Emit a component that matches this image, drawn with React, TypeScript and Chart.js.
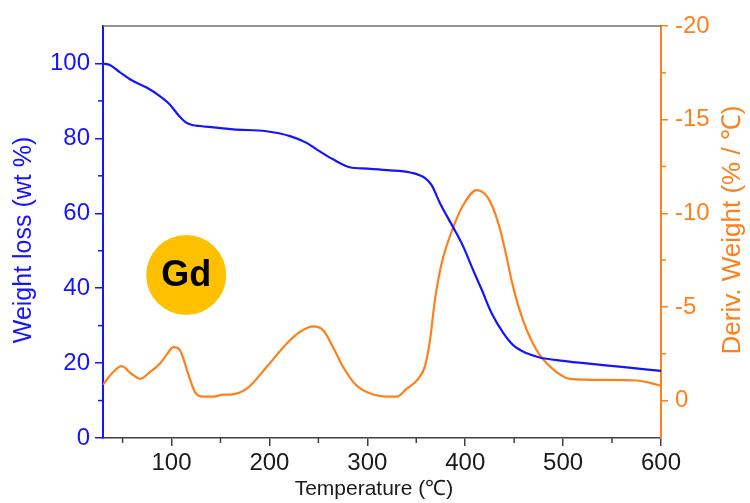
import React, { useEffect, useRef } from 'react';
import { Chart, registerables } from 'chart.js';

Chart.register(...registerables);

// TGA curve: temperature (℃) and remaining weight (wt %)
const tempWeight = [30, 37, 47, 58, 75, 88, 98, 108, 115, 122, 129, 163, 197, 221, 238, 251, 265, 282, 300, 320, 344, 359, 366, 374, 388, 398, 408, 417, 427, 439, 449, 463, 476, 500, 524, 560, 600];
const weightLoss = [100, 99.6, 97.7, 95.7, 93.5, 91.3, 89.1, 85.9, 84.2, 83.5, 83.3, 82.4, 81.9, 80.6, 78.8, 76.6, 74.4, 72.3, 71.9, 71.5, 70.9, 69.4, 67.4, 62.8, 56.1, 51.1, 44.9, 39.5, 33.3, 28.0, 24.8, 22.6, 21.5, 20.6, 19.9, 19.0, 17.9];

// DTG curve: temperature (℃) and derivative weight (% / ℃)
const tempDeriv = [30, 40.5, 49, 59, 68, 78, 88, 95, 102, 108.5, 117, 124, 132.5, 143, 153, 160, 176.5, 197, 217.5, 231, 245, 255, 265, 275.5, 289, 306, 320, 330, 340, 352, 359, 364, 369, 373, 377.6, 388, 398, 411.7, 423.6, 434, 442.3, 447, 452.6, 459, 466, 476.4, 493.4, 507, 541, 575, 600];
const derivWeight = [-0.85, -1.52, -1.84, -1.43, -1.16, -1.52, -1.96, -2.45, -2.85, -2.7, -1.43, -0.45, -0.21, -0.21, -0.32, -0.32, -0.62, -1.78, -3.03, -3.66, -3.96, -3.75, -2.85, -1.78, -0.8, -0.32, -0.21, -0.21, -0.62, -1.16, -1.85, -3.21, -5.35, -6.6, -7.67, -9.28, -10.44, -11.24, -10.8, -9.45, -7.67, -6.5, -5.35, -4.3, -3.39, -2.41, -1.52, -1.16, -1.1, -1.07, -0.8];

// Axis ticks (major carry labels, minor are short marks only)
const tempTicks = [100, 200, 300, 400, 500, 600];
const tempMinor = [50, 150, 250, 350, 450, 550];
const weightTicks = [0, 20, 40, 60, 80, 100];
const weightMinor = [10, 30, 50, 70, 90];
const derivTicks = [0, -5, -10, -15, -20];
const derivMinor = [-2.5, -7.5, -12.5, -17.5];

// Sample label placed inside the plot (in data coordinates)
const badgeText = 'Gd';
const badgeTemp = 115;
const badgeWeight = 43.5;

const BLUE = '#1414ff';
const ORANGE = '#ff801a';
const DARK = '#1a1a1a';
const FONT = 'Arial, "Liberation Sans", Helvetica, sans-serif';

const decorations = {
  id: 'decorations',
  afterDraw(chart: any) {
    const { ctx, chartArea, scales } = chart;
    const x = scales.x;
    const y = scales.y;
    const y2 = scales.y2;
    ctx.save();

    // top frame line
    ctx.strokeStyle = '#707070';
    ctx.lineWidth = 1.5;
    ctx.beginPath();
    ctx.moveTo(chartArea.left, chartArea.top);
    ctx.lineTo(chartArea.right, chartArea.top);
    ctx.stroke();

    // minor ticks
    ctx.lineWidth = 1.5;
    ctx.strokeStyle = '#404040';
    tempMinor.forEach((v) => {
      const px = x.getPixelForValue(v);
      ctx.beginPath();
      ctx.moveTo(px, chartArea.bottom);
      ctx.lineTo(px, chartArea.bottom + 5);
      ctx.stroke();
    });
    ctx.strokeStyle = BLUE;
    weightMinor.forEach((v) => {
      const py = y.getPixelForValue(v);
      ctx.beginPath();
      ctx.moveTo(chartArea.left - 5, py);
      ctx.lineTo(chartArea.left, py);
      ctx.stroke();
    });
    ctx.strokeStyle = ORANGE;
    derivMinor.forEach((v) => {
      const py = y2.getPixelForValue(v);
      ctx.beginPath();
      ctx.moveTo(chartArea.right, py);
      ctx.lineTo(chartArea.right + 5, py);
      ctx.stroke();
    });

    // axis titles
    ctx.textAlign = 'center';
    ctx.textBaseline = 'middle';

    ctx.fillStyle = BLUE;
    ctx.font = `25px ${FONT}`;
    ctx.save();
    ctx.translate(24, 240);
    ctx.rotate(-Math.PI / 2);
    ctx.fillText('Weight loss (wt %)', 0, 0);
    ctx.restore();

    ctx.fillStyle = ORANGE;
    ctx.font = `26px ${FONT}`;
    ctx.save();
    ctx.translate(733, 230);
    ctx.rotate(-Math.PI / 2);
    ctx.fillText('Deriv. Weight (% / ℃)', 0, 0);
    ctx.restore();

    ctx.fillStyle = DARK;
    ctx.font = `21px ${FONT}`;
    ctx.fillText('Temperature (℃)', 374, 489);

    // sample badge
    const cx = x.getPixelForValue(badgeTemp);
    const cy = y.getPixelForValue(badgeWeight);
    ctx.fillStyle = '#ffc000';
    ctx.beginPath();
    ctx.arc(cx, cy, 40, 0, Math.PI * 2);
    ctx.fill();
    ctx.fillStyle = '#000000';
    ctx.font = `bold 36px ${FONT}`;
    ctx.fillText(badgeText, cx, cy + 1);

    ctx.restore();
  },
};

export default function App() {
  const canvasRef = useRef<HTMLCanvasElement | null>(null);

  useEffect(() => {
    const canvas = canvasRef.current;
    if (!canvas) return;

    const chart = new Chart(canvas, {
      type: 'line',
      data: {
        datasets: [
          {
            label: 'Weight loss',
            data: tempWeight.map((t, i) => ({ x: t, y: weightLoss[i] })),
            yAxisID: 'y',
            borderColor: BLUE,
            borderWidth: 2.2,
            pointRadius: 0,
            fill: false,
            cubicInterpolationMode: 'monotone',
          },
          {
            label: 'Deriv. Weight',
            data: tempDeriv.map((t, i) => ({ x: t, y: derivWeight[i] })),
            yAxisID: 'y2',
            borderColor: ORANGE,
            borderWidth: 2.2,
            pointRadius: 0,
            fill: false,
            cubicInterpolationMode: 'monotone',
          },
        ],
      },
      options: {
        responsive: false,
        animation: false,
        layout: { padding: { top: 26, left: 0, right: 0, bottom: 0 } },
        plugins: { legend: { display: false }, tooltip: { enabled: false } },
        scales: {
          x: {
            type: 'linear',
            position: 'bottom',
            min: 30,
            max: 600,
            afterBuildTicks: (s: any) => {
              s.ticks = tempTicks.map((v) => ({ value: v }));
            },
            afterFit: (s: any) => {
              s.height = 65;
            },
            grid: { drawOnChartArea: false, drawTicks: true, tickLength: 8, color: '#404040', lineWidth: 1.5 },
            border: { color: '#404040', width: 1.5 },
            ticks: {
              color: DARK,
              font: { family: FONT, size: 24 },
              padding: 3,
              maxRotation: 0,
              autoSkip: false,
              callback: (v: any) => String(v),
            },
          },
          y: {
            type: 'linear',
            position: 'left',
            min: 0,
            max: 110,
            afterBuildTicks: (s: any) => {
              s.ticks = weightTicks.map((v) => ({ value: v }));
            },
            afterFit: (s: any) => {
              s.width = 103;
            },
            grid: { drawOnChartArea: false, drawTicks: true, tickLength: 8, color: BLUE, lineWidth: 1.5 },
            border: { color: BLUE, width: 2 },
            ticks: {
              color: BLUE,
              font: { family: FONT, size: 24 },
              padding: 5,
              autoSkip: false,
              callback: (v: any) => String(v),
            },
          },
          y2: {
            type: 'linear',
            position: 'right',
            min: -20,
            max: 2,
            reverse: true,
            afterBuildTicks: (s: any) => {
              s.ticks = derivTicks.map((v) => ({ value: v }));
            },
            afterFit: (s: any) => {
              s.width = 89;
            },
            grid: { drawOnChartArea: false, drawTicks: true, tickLength: 7, color: ORANGE, lineWidth: 1.5 },
            border: { color: ORANGE, width: 2 },
            ticks: {
              color: ORANGE,
              font: { family: FONT, size: 24 },
              padding: 7,
              autoSkip: false,
              callback: (v: any) => String(v),
            },
          },
        },
      },
      plugins: [decorations],
    });

    return () => chart.destroy();
  }, []);

  return (
    <div style={{ position: 'absolute', left: 0, top: 0, width: 750, height: 503, background: '#ffffff' }}>
      <canvas ref={canvasRef} width={750} height={503} style={{ display: 'block' }} />
    </div>
  );
}
